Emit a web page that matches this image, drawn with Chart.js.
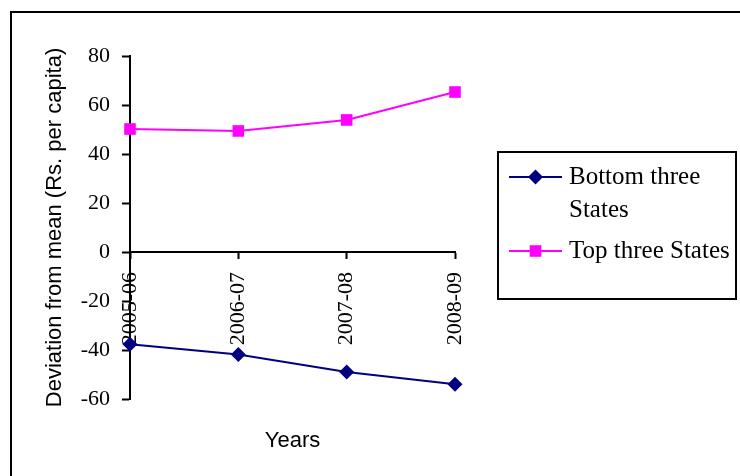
<!DOCTYPE html>
<html>
<head>
<meta charset="utf-8">
<script src="https://cdn.jsdelivr.net/npm/chart.js@4.4.0/dist/chart.umd.min.js"></script>
<style>
	body { margin: 0; background: #ffffff; }
	canvas { display: block; }
</style>
</head>
<body>
<canvas id="chart" width="740" height="476"></canvas>
<script>
var years = [ "2005-06", "2006-07", "2007-08", "2008-09" ];
var bottomThree = [ -37.7, -41.8, -49, -54 ];
var topThree = [ 50.2, 49.4, 53.9, 65.3 ];
var seriesNames = [ [ "Bottom three", "States" ], [ "Top three States" ] ];
var yTicks = [ -60, -40, -20, 0, 20, 40, 60, 80 ];

var serif = "'Liberation Serif', 'DejaVu Serif', serif";
var sans = "'Liberation Sans', Arial, sans-serif";

// outer frame of the picture
var framePlugin = {
	id : 'frame',
	beforeDraw : function(chart) {
		var ctx = chart.ctx;
		ctx.save();
		ctx.fillStyle = '#ffffff';
		ctx.fillRect(0, 0, chart.width, chart.height);
		ctx.strokeStyle = '#000000';
		ctx.lineWidth = 2;
		ctx.strokeRect(11, 12, 800, 600);
		ctx.restore();
	}
};

function drawMarker(ctx, style, x, y, r, color) {
	ctx.fillStyle = color;
	ctx.beginPath();
	if (style == 'rectRot') {
		ctx.moveTo(x, y - r);
		ctx.lineTo(x + r, y);
		ctx.lineTo(x, y + r);
		ctx.lineTo(x - r, y);
		ctx.closePath();
	} else {
		var s = r * Math.SQRT1_2;
		ctx.rect(x - s, y - s, 2 * s, 2 * s);
	}
	ctx.fill();
}

// boxed legend on the right, text may wrap on two lines
var boxLegendPlugin = {
	id : 'boxLegend',
	afterDraw : function(chart) {
		var ctx = chart.ctx;
		var rows = [ 177, 251 ];
		ctx.save();
		ctx.strokeStyle = '#000000';
		ctx.lineWidth = 2;
		ctx.strokeRect(498, 152, 238, 147);
		ctx.font = "25px " + serif;
		ctx.textBaseline = 'middle';
		ctx.textAlign = 'left';
		chart.data.datasets.forEach(function(ds, i) {
			var y = rows[i];
			ctx.strokeStyle = ds.borderColor;
			ctx.lineWidth = 2;
			ctx.beginPath();
			ctx.moveTo(509, y);
			ctx.lineTo(562, y);
			ctx.stroke();
			drawMarker(ctx, ds.pointStyle, 535.5, y, ds.pointRadius, ds.borderColor);
			ctx.fillStyle = '#000000';
			var lines = seriesNames[i];
			for (var j = 0; j < lines.length; j++) {
				ctx.fillText(lines[j], 569, y + j * 33);
			}
		});
		ctx.restore();
	}
};

function setChart() {
	new Chart(document.getElementById('chart'), {
		type : 'line',
		data : {
			labels : years,
			datasets : [{
				label : seriesNames[0].join(" "),
				data : bottomThree,
				borderColor : '#000080',
				backgroundColor : '#000080',
				borderWidth : 2,
				pointStyle : 'rectRot',
				pointRadius : 7.5,
				pointBorderWidth : 0,
				clip : false
			}, {
				label : seriesNames[1].join(" "),
				data : topThree,
				borderColor : '#ff00ff',
				backgroundColor : '#ff00ff',
				borderWidth : 2,
				pointStyle : 'rect',
				pointRadius : 8.2,
				pointBorderWidth : 0,
				clip : false
			}]
		},
		options : {
			responsive : false,
			animation : false,
			layout : {
				padding : { left : 0, top : 56, right : 285, bottom : 21.6 }
			},
			plugins : {
				legend : { display : false },
				tooltip : { enabled : false },
				title : {
					display : true,
					text : 'Years',
					position : 'bottom',
					fullSize : false,
					color : '#000000',
					font : { family : sans, size : 22, weight : 'normal' },
					padding : { top : 29, bottom : 0 }
				}
			},
			scales : {
				x : {
					type : 'category',
					position : { y : 0 },
					offset : false,
					grid : {
						drawOnChartArea : false,
						drawTicks : true,
						tickLength : 6,
						tickWidth : 2,
						tickColor : '#000000'
					},
					border : { color : '#000000', width : 2 },
					ticks : {
						color : '#000000',
						minRotation : 90,
						maxRotation : 90,
						autoSkip : false,
						padding : 14,
						font : { family : serif, size : 22 }
					}
				},
				y : {
					min : yTicks[0],
					max : yTicks[yTicks.length - 1],
					afterFit : function(scale) {
						scale.width = 130;
					},
					afterBuildTicks : function(scale) {
						scale.ticks = yTicks.map(function(v) { return { value : v }; });
					},
					grid : {
						drawOnChartArea : false,
						tickLength : 8,
						tickWidth : 2,
						tickColor : '#000000'
					},
					border : { color : '#000000', width : 2 },
					ticks : {
						color : '#000000',
						padding : 12,
						font : { family : serif, size : 22 }
					},
					title : {
						display : true,
						text : 'Deviation from mean (Rs. per capita)',
						color : '#000000',
						font : { family : sans, size : 22 },
						padding : { top : 42, bottom : 0 }
					}
				}
			}
		},
		plugins : [ framePlugin, boxLegendPlugin ]
	});
}

setChart();
</script>
</body>
</html>
